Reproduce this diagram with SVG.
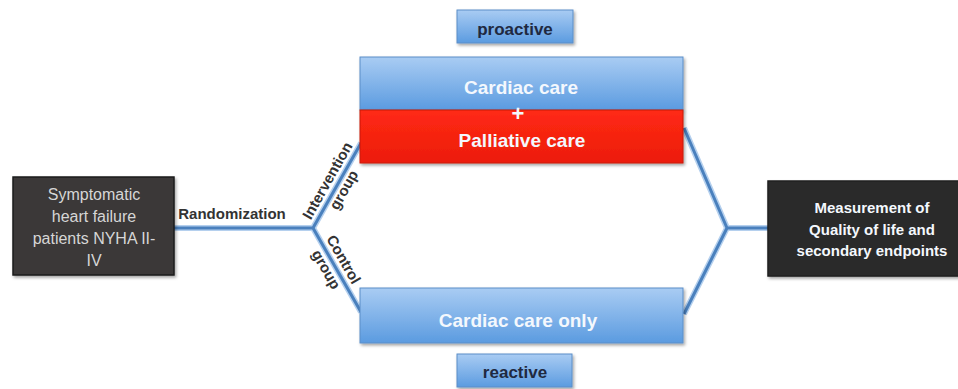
<svg xmlns="http://www.w3.org/2000/svg" width="958" height="389" viewBox="0 0 958 389">
<defs>
<linearGradient id="blueG" x1="0" y1="0" x2="0" y2="1">
<stop offset="0" stop-color="#a9ccf3"/>
<stop offset="1" stop-color="#5b9be0"/>
</linearGradient>
<linearGradient id="redG" x1="0" y1="0" x2="0" y2="1">
<stop offset="0" stop-color="#ff2a14"/>
<stop offset="1" stop-color="#ec1c0c"/>
</linearGradient>
<filter id="sh" x="-10%" y="-10%" width="120%" height="130%">
<feDropShadow dx="1.5" dy="2" stdDeviation="1.5" flood-color="#000" flood-opacity="0.35"/>
</filter>
</defs>
<style>
.blue{fill:url(#blueG);stroke:#5b8ec8;stroke-width:1}
.dark{stroke:#1e1e1e;stroke-width:1.5}
.w{font-family:"Liberation Sans",Arial,sans-serif;font-weight:bold;fill:#f4f8fd;text-anchor:middle}
.tag{font-family:"Liberation Sans",Arial,sans-serif;font-weight:bold;fill:#1f2940;text-anchor:middle;font-size:17px}
.lbl{font-family:"Liberation Sans",Arial,sans-serif;font-weight:bold;fill:#333;text-anchor:middle;font-size:15px}
.gl{font-family:"Liberation Sans",Arial,sans-serif;fill:#d6d6d6;text-anchor:middle;font-size:16px}
.halo{fill:none;stroke:#b5d0ee;stroke-width:6;stroke-linejoin:round}
.ln{fill:none;stroke:#4a80bd;stroke-width:3;stroke-linejoin:round}
</style>
<rect width="958" height="389" fill="#ffffff"/>
<g id="connectors">
<path class="halo" d="M174 228 H313 L361 143 M313 228 L361 312 M684 128 L727 228 L684 314 M727 228 H768"/>
<path class="ln" d="M174 228 H313 L361 143 M313 228 L361 312 M684 128 L727 228 L684 314 M727 228 H768"/>
</g>
<g id="label-randomization">
<text class="lbl" x="232" y="219" font-size="14.5">Randomization</text>
</g>
<g id="label-intervention" transform="translate(337,186) rotate(-60.5)">
<text class="lbl" x="0" y="-6">Intervention</text>
<text class="lbl" x="0" y="13">group</text>
</g>
<g id="label-control" transform="translate(334,265) rotate(60.3)">
<text class="lbl" x="0" y="-6">Control</text>
<text class="lbl" x="0" y="14">group</text>
</g>
<g id="patients">
<rect class="dark" x="13" y="177" width="161" height="98" fill="#3a3937" filter="url(#sh)"/>
<text class="gl" x="94" y="200">Symptomatic</text>
<text class="gl" x="94" y="222">heart failure</text>
<text class="gl" x="94" y="244">patients  NYHA II-</text>
<text class="gl" x="94" y="266">IV</text>
</g>
<g id="proactive">
<rect class="blue" x="457" y="10" width="116" height="33" filter="url(#sh)"/>
<text class="tag" x="515" y="35">proactive</text>
</g>
<g id="intervention">
<rect class="blue" x="360" y="57" width="323" height="53" filter="url(#sh)"/>
<rect x="360" y="110" width="323" height="53" fill="url(#redG)" stroke="#c81808" stroke-width="1" filter="url(#sh)"/>
<text class="w" x="521" y="94" font-size="19">Cardiac care</text>
<text class="w" x="518" y="121" font-size="22">+</text>
<text class="w" x="522" y="147" font-size="19">Palliative care</text>
</g>
<g id="control">
<rect class="blue" x="360" y="288" width="323" height="55" filter="url(#sh)"/>
<text class="w" x="518" y="327" font-size="19">Cardiac care only</text>
</g>
<g id="reactive">
<rect class="blue" x="457" y="354" width="115" height="33" filter="url(#sh)"/>
<text class="tag" x="515" y="378">reactive</text>
</g>
<g id="measurement">
<rect class="dark" x="768" y="181" width="210" height="95" fill="#2b2a29" filter="url(#sh)"/>
<text class="w" x="872" y="213" font-size="15" fill="#f0f0f0">Measurement of</text>
<text class="w" x="872" y="235" font-size="15">Quality of life and</text>
<text class="w" x="872" y="256" font-size="15">secondary endpoints</text>
</g>
</svg>
